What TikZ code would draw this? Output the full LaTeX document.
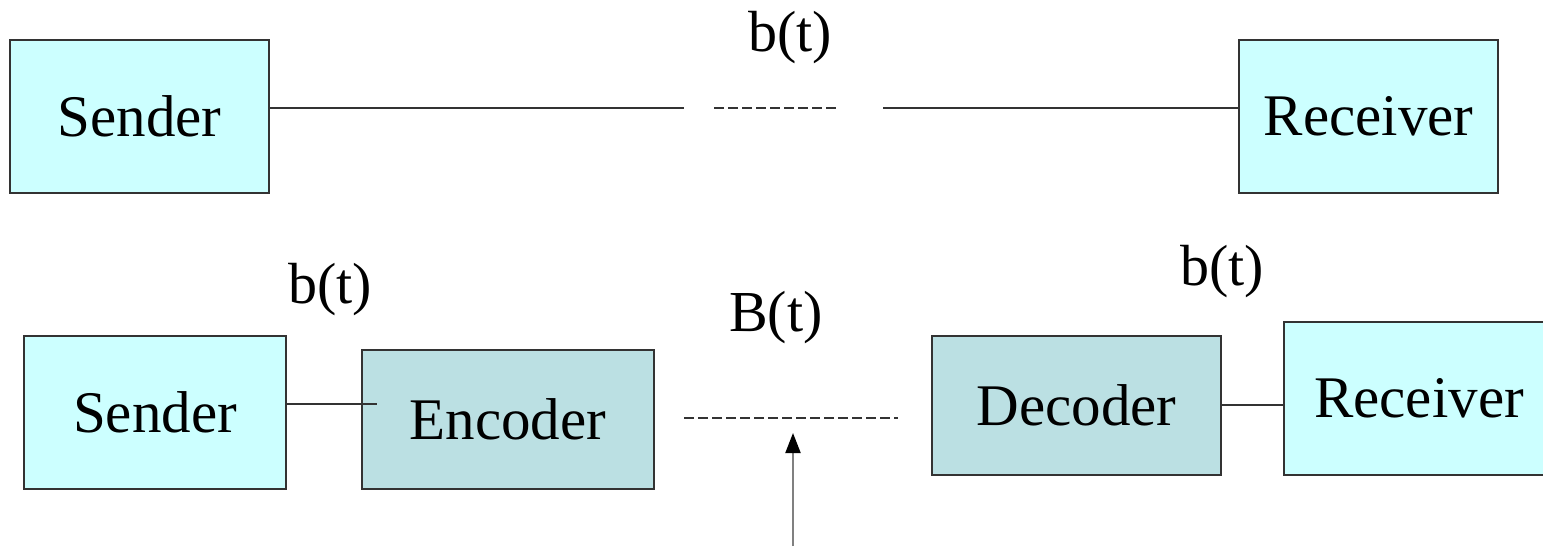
\documentclass[tikz,border=0pt]{standalone}
\usepackage{fontspec}
\setmainfont{Liberation Serif}
\usetikzlibrary{arrows.meta}
\definecolor{lightbox}{HTML}{CCFFFF}
\definecolor{codebox}{HTML}{BBE0E3}
\definecolor{edge}{HTML}{333333}
\begin{document}
\begin{tikzpicture}[x=1pt,y=-1pt,
  box/.style={draw=edge,line width=2pt,fill=lightbox,anchor=north west,inner sep=0pt,
    font=\fontsize{59}{66}\selectfont},
  codec/.style={box,fill=codebox},
  lbl/.style={inner sep=0pt,font=\fontsize{58}{64}\selectfont},
  wire/.style={draw=edge,line width=2pt},
  dwire/.style={draw=edge,line width=2pt,dash pattern=on 10pt off 4pt}]
\useasboundingbox (0,0) rectangle (1543,548);
% top row
\node[box,minimum width=259pt,minimum height=153pt] (s1) at (9,39) {\raisebox{-3pt}{Sender}};
\node[box,minimum width=259pt,minimum height=153pt] (r1) at (1238,39) {\raisebox{-3pt}{Receiver}};
\node[lbl] (lb1) at (790,38) {b(t)};
\coordinate (g1) at (684,108);
\coordinate (g2) at (714,108);
\coordinate (g3) at (838,108);
\coordinate (g4) at (883,108);
\draw[wire] (s1.east |- g1) -- (g1);
\draw[dwire] (g2) -- (g3);
\draw[wire] (g4) -- (r1.west |- g4);
% bottom row
\node[box,minimum width=262pt,minimum height=153pt] (s2) at (23,335) {\raisebox{-3pt}{Sender}};
\node[codec,minimum width=292pt,minimum height=139pt] (enc) at (361,349) {\raisebox{-3pt}{Encoder}};
\node[codec,minimum width=289pt,minimum height=139pt] (dec) at (931,335) {\raisebox{-2pt}{Decoder}};
\node[box,minimum width=270pt,minimum height=153pt] (r2) at (1283,321) {\raisebox{-2pt}{Receiver}};
\node[lbl] (lb2) at (330,290) {b(t)};
\node[lbl] (lb3) at (776,318) {B(t)};
\node[lbl] (lb4) at (1222,272) {b(t)};
\coordinate (e1) at (377,404);
\draw[wire] (s2.east |- e1) -- (e1);
\coordinate (d1) at (1220,405);
\draw[wire] (dec.east |- d1) -- (r2.west |- d1);
\coordinate (c1) at (684,418);
\coordinate (c2) at (898,418);
\draw[dwire] (c1) -- (c2);
\coordinate (a0) at (793,546);
\coordinate (a1) at (793,433);
\draw[draw=gray,line width=2pt,-{Triangle[length=20pt,width=15pt,fill=black,color=black]}] (a0) -- (a1);
\end{tikzpicture}
\end{document}
